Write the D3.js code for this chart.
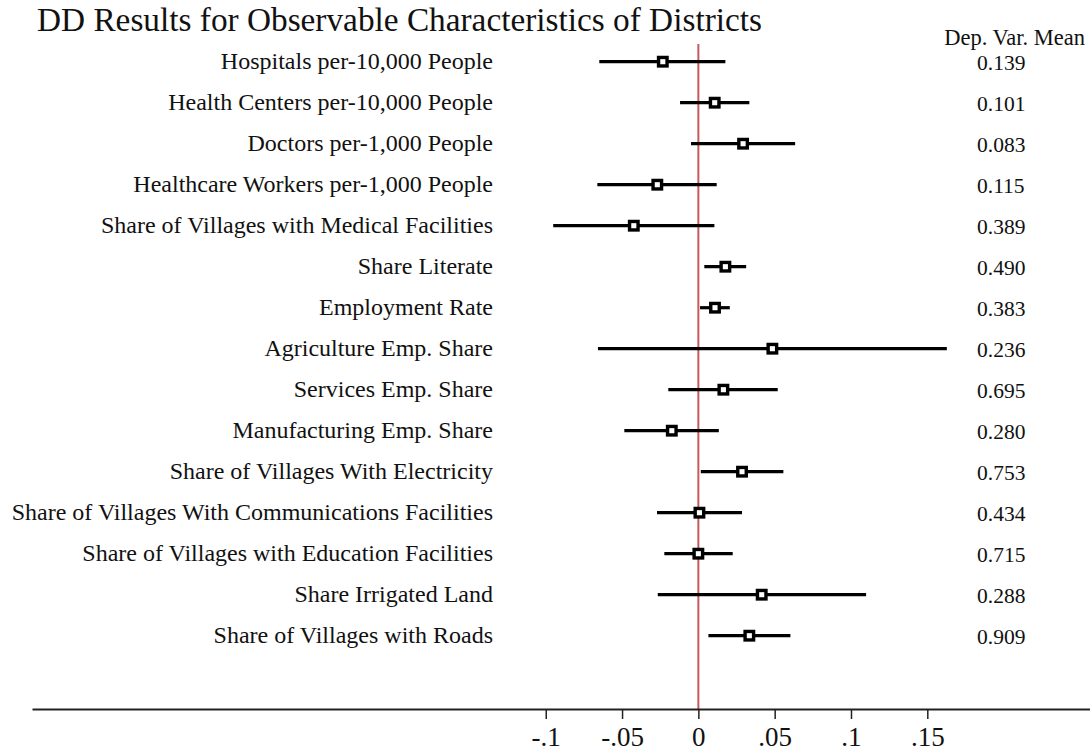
<!DOCTYPE html>
<html>
<head>
<meta charset="utf-8">
<script src="https://cdn.jsdelivr.net/npm/d3@7"></script>
<style>
  html, body { margin: 0; padding: 0; background: #fff; }
  svg { display: block; font-family: "Liberation Serif", "Times New Roman", serif; }
</style>
</head>
<body>
<svg id="chart" width="1090" height="755"></svg>
<script>
const categories = [
  "Hospitals per-10,000 People",
  "Health Centers per-10,000 People",
  "Doctors per-1,000 People",
  "Healthcare Workers per-1,000 People",
  "Share of Villages with Medical Facilities",
  "Share Literate",
  "Employment Rate",
  "Agriculture Emp. Share",
  "Services Emp. Share",
  "Manufacturing Emp. Share",
  "Share of Villages With Electricity",
  "Share of Villages With Communications Facilities",
  "Share of Villages with Education Facilities",
  "Share Irrigated Land",
  "Share of Villages with Roads"
];
const estimates = [-0.0233, 0.0107, 0.0293, -0.0269, -0.0423, 0.0177, 0.0109, 0.0485, 0.0164, -0.0174, 0.0286, 0.0007, 0.0000, 0.0415, 0.0334];
const ciLow     = [-0.0649, -0.0120, -0.0048, -0.0662, -0.0951, 0.0039, 0.0011, -0.0658, -0.0197, -0.0485, 0.0016, -0.0271, -0.0223, -0.0266, 0.0066];
const ciHigh    = [0.0177, 0.0334, 0.0634, 0.0120, 0.0105, 0.0313, 0.0206, 0.1628, 0.0520, 0.0134, 0.0557, 0.0286, 0.0225, 0.1099, 0.0603];
const depVarMeans = ["0.139", "0.101", "0.083", "0.115", "0.389", "0.490", "0.383", "0.236", "0.695", "0.280", "0.753", "0.434", "0.715", "0.288", "0.909"];
const tickValues = [-0.1, -0.05, 0, 0.05, 0.1, 0.15];
const titleText = "DD Results for Observable Characteristics of Districts";
const meanHeader = "Dep. Var. Mean";

const svg = d3.select("#chart");

const x = d3.scaleLinear().domain([-0.4366, 0.2566]).range([32, 1090]);
const y = d3.scalePoint().domain(categories).range([61.7, 635.7]);
const axisY = 709;

// Title
svg.append("text")
  .attr("x", 37).attr("y", 31)
  .attr("font-size", 33.3)
  .attr("fill", "#111")
  .text(titleText);

// Zero reference line
svg.append("line")
  .attr("x1", x(0)).attr("x2", x(0))
  .attr("y1", 44).attr("y2", axisY)
  .attr("stroke", "#c85a5c").attr("stroke-width", 2);

// Axis
const axis = d3.axisBottom(x)
  .tickValues(tickValues)
  .tickSize(10)
  .tickSizeOuter(0)
  .tickPadding(6)
  .tickFormat(d => d === 0 ? "0" : String(d).replace("0.", "."));
const gAxis = svg.append("g").attr("transform", `translate(0,${axisY})`).call(axis);
gAxis.select(".domain").attr("stroke", "#222").attr("stroke-width", 2);
gAxis.selectAll(".tick line").attr("stroke", "#222").attr("stroke-width", 1.5);
gAxis.selectAll(".tick text")
  .attr("font-family", "Liberation Serif, serif")
  .attr("font-size", 27)
  .attr("fill", "#111")
  .attr("dy", "0.78em");

const rows = categories.map((c, i) => ({c, est: estimates[i], lo: ciLow[i], hi: ciHigh[i], mean: depVarMeans[i]}));

// Row labels
svg.append("g").selectAll("text").data(rows).join("text")
  .attr("x", 493)
  .attr("y", d => y(d.c) + 7)
  .attr("text-anchor", "end")
  .attr("font-size", 24)
  .attr("fill", "#111")
  .text(d => d.c);

// CI lines
svg.append("g").selectAll("line").data(rows).join("line")
  .attr("x1", d => x(d.lo)).attr("x2", d => x(d.hi))
  .attr("y1", d => y(d.c)).attr("y2", d => y(d.c))
  .attr("stroke", "#000").attr("stroke-width", 3.2);

// Markers
const ms = 8.5;
svg.append("g").selectAll("rect").data(rows).join("rect")
  .attr("x", d => x(d.est) - ms / 2)
  .attr("y", d => y(d.c) - ms / 2)
  .attr("width", ms).attr("height", ms)
  .attr("fill", "#fff")
  .attr("stroke", "#000").attr("stroke-width", 3.4);

// Dep var mean column
svg.append("text")
  .attr("x", 1085).attr("y", 45)
  .attr("text-anchor", "end")
  .attr("font-size", 22.5)
  .attr("fill", "#111")
  .text(meanHeader);

svg.append("g").selectAll("text").data(rows).join("text")
  .attr("x", 977)
  .attr("y", d => y(d.c) + 7.8)
  .attr("font-size", 21.5)
  .attr("fill", "#111")
  .text(d => d.mean);
</script>
</body>
</html>
